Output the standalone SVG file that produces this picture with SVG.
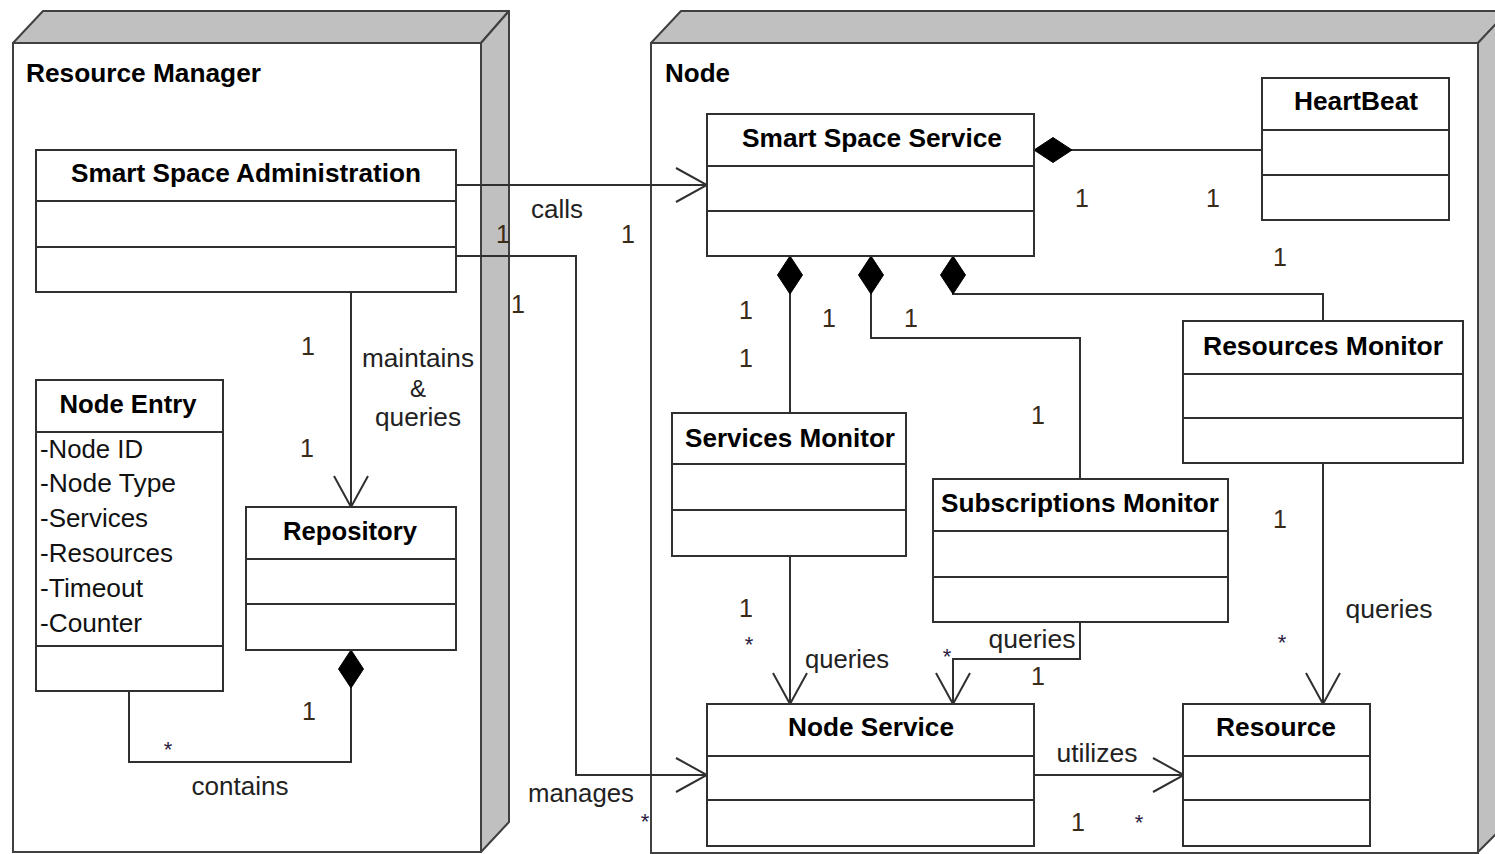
<svg xmlns="http://www.w3.org/2000/svg" width="1495" height="854" viewBox="0 0 1495 854">
  <style>
    .front { fill: #ffffff; stroke: #404040; stroke-width: 2; }
    .side { fill: #c0c0c0; stroke: #404040; stroke-width: 2; stroke-linejoin: round; }
    .box { fill: #ffffff; stroke: #303030; stroke-width: 2; }
    .sep { stroke: #303030; stroke-width: 2; }
    .conn { fill: none; stroke: #303030; stroke-width: 2; }
    .pkg { font-family: "Liberation Sans", Arial, sans-serif; font-weight: bold; font-size: 25px; fill: #000; }
    .title { font-family: "Liberation Sans", Arial, sans-serif; font-weight: bold; font-size: 25px; fill: #000; text-anchor: middle; }
    .attr { font-family: "Liberation Sans", Arial, sans-serif; font-size: 26px; fill: #111; }
    .lbl { font-family: "Liberation Sans", Arial, sans-serif; font-size: 26px; fill: #222; text-anchor: middle; }
    .amp { font-family: "Liberation Sans", Arial, sans-serif; font-size: 24px; fill: #222; text-anchor: middle; }
    .mult { font-family: "Liberation Sans", Arial, sans-serif; font-size: 25px; fill: #3a2a18; text-anchor: middle; }
    .star { font-family: "Liberation Sans", Arial, sans-serif; font-size: 22px; fill: #2a2040; text-anchor: middle; }
  </style>
  <defs>
    <!-- open navigability arrowhead -->
    <marker id="open" viewBox="0 0 33 36" refX="32" refY="18" markerWidth="33" markerHeight="36" markerUnits="userSpaceOnUse" orient="auto">
      <path d="M1,1 L32,18 L1,35" fill="none" stroke="#303030" stroke-width="2"/>
    </marker>
    <!-- filled composition diamond, placed at the owning end -->
    <marker id="diamond" viewBox="0 0 40 28" refX="0" refY="14" markerWidth="40" markerHeight="28" markerUnits="userSpaceOnUse" orient="auto">
      <path d="M0,14 L19,1.5 L38,14 L19,26.5 Z" fill="#000" stroke="#000" stroke-width="1"/>
    </marker>
  </defs>

  <!-- deployment node: Resource Manager -->
  <g id="pkg-resource-manager">
    <polygon class="side" points="13,43 43,11 509,11 481,43"/>
    <polygon class="side" points="481,43 509,11 509,822 481,852"/>
    <rect class="front" x="13" y="43" width="468" height="809"/>
    <text class="pkg" x="26" y="82" textLength="235" lengthAdjust="spacingAndGlyphs">Resource Manager</text>
  </g>

  <!-- deployment node: Node -->
  <g id="pkg-node">
    <polygon class="side" points="651,43 681,11 1508,11 1478,43"/>
    <polygon class="side" points="1478,43 1508,11 1508,822 1478,852"/>
    <rect class="front" x="651" y="43" width="827" height="810"/>
    <text class="pkg" x="665" y="82" textLength="65" lengthAdjust="spacingAndGlyphs">Node</text>
  </g>

  <!-- associations -->
  <g id="connectors">
    <path class="conn" d="M456,185 H707" marker-end="url(#open)"/>
    <path class="conn" d="M456,256 H576 V775 H707" marker-end="url(#open)"/>
    <path class="conn" d="M351,292 V507" marker-end="url(#open)"/>
    <path class="conn" d="M351,650 V762 H129 V691" marker-start="url(#diamond)"/>
    <path class="conn" d="M1034,150 H1262" marker-start="url(#diamond)"/>
    <path class="conn" d="M790,256 V413" marker-start="url(#diamond)"/>
    <path class="conn" d="M871,256 V338 H1080 V479" marker-start="url(#diamond)"/>
    <path class="conn" d="M953,256 V294 H1323 V321" marker-start="url(#diamond)"/>
    <path class="conn" d="M790,556 V704" marker-end="url(#open)"/>
    <path class="conn" d="M1080,622 V659 H953 V704" marker-end="url(#open)"/>
    <path class="conn" d="M1323,463 V704" marker-end="url(#open)"/>
    <path class="conn" d="M1034,775 H1184" marker-end="url(#open)"/>

    <!-- association names -->
    <text class="lbl" x="557" y="218" textLength="52" lengthAdjust="spacingAndGlyphs">calls</text>
    <text class="lbl" x="581" y="802" textLength="106" lengthAdjust="spacingAndGlyphs">manages</text>
    <text class="lbl" x="418" y="367" textLength="112" lengthAdjust="spacingAndGlyphs">maintains</text>
    <text class="amp" x="418" y="397">&amp;</text>
    <text class="lbl" x="418" y="426" textLength="86" lengthAdjust="spacingAndGlyphs">queries</text>
    <text class="lbl" x="240" y="795" textLength="97" lengthAdjust="spacingAndGlyphs">contains</text>
    <text class="lbl" x="847" y="668" textLength="84" lengthAdjust="spacingAndGlyphs">queries</text>
    <text class="lbl" x="1032" y="648" textLength="87" lengthAdjust="spacingAndGlyphs">queries</text>
    <text class="lbl" x="1389" y="618" textLength="87" lengthAdjust="spacingAndGlyphs">queries</text>
    <text class="lbl" x="1097" y="762" textLength="81" lengthAdjust="spacingAndGlyphs">utilizes</text>

    <!-- multiplicities -->
    <text class="mult" x="503" y="243">1</text>
    <text class="mult" x="628" y="243">1</text>
    <text class="mult" x="518" y="313">1</text>
    <text class="mult" x="308" y="355">1</text>
    <text class="mult" x="307" y="457">1</text>
    <text class="mult" x="309" y="720">1</text>
    <text class="star" x="168" y="757">*</text>
    <text class="star" x="645" y="829">*</text>
    <text class="mult" x="1082" y="207">1</text>
    <text class="mult" x="1213" y="207">1</text>
    <text class="mult" x="1280" y="266">1</text>
    <text class="mult" x="746" y="319">1</text>
    <text class="mult" x="746" y="367">1</text>
    <text class="mult" x="829" y="327">1</text>
    <text class="mult" x="911" y="327">1</text>
    <text class="mult" x="1038" y="424">1</text>
    <text class="mult" x="1280" y="528">1</text>
    <text class="mult" x="746" y="617">1</text>
    <text class="star" x="749" y="652">*</text>
    <text class="star" x="947" y="664">*</text>
    <text class="mult" x="1038" y="685">1</text>
    <text class="star" x="1282" y="650">*</text>
    <text class="mult" x="1078" y="831">1</text>
    <text class="star" x="1139" y="830">*</text>
  </g>

  <!-- classes -->
  <g id="smart-space-administration">
    <rect class="box" x="36" y="150" width="420" height="142"/>
    <line class="sep" x1="36" y1="201" x2="456" y2="201"/>
    <line class="sep" x1="36" y1="247" x2="456" y2="247"/>
    <text class="title" x="246" y="182" textLength="350" lengthAdjust="spacingAndGlyphs">Smart Space Administration</text>
  </g>

  <g id="node-entry">
    <rect class="box" x="36" y="380" width="187" height="311"/>
    <line class="sep" x1="36" y1="432" x2="223" y2="432"/>
    <line class="sep" x1="36" y1="646" x2="223" y2="646"/>
    <text class="title" x="128" y="413" textLength="137" lengthAdjust="spacingAndGlyphs">Node Entry</text>
    <text class="attr" x="40" y="458" textLength="103" lengthAdjust="spacingAndGlyphs">-Node ID</text>
    <text class="attr" x="40" y="492" textLength="136" lengthAdjust="spacingAndGlyphs">-Node Type</text>
    <text class="attr" x="40" y="527" textLength="108" lengthAdjust="spacingAndGlyphs">-Services</text>
    <text class="attr" x="40" y="562" textLength="133" lengthAdjust="spacingAndGlyphs">-Resources</text>
    <text class="attr" x="40" y="597" textLength="103" lengthAdjust="spacingAndGlyphs">-Timeout</text>
    <text class="attr" x="40" y="632" textLength="102" lengthAdjust="spacingAndGlyphs">-Counter</text>
  </g>

  <g id="repository">
    <rect class="box" x="246" y="507" width="210" height="143"/>
    <line class="sep" x1="246" y1="559" x2="456" y2="559"/>
    <line class="sep" x1="246" y1="604" x2="456" y2="604"/>
    <text class="title" x="350" y="540" textLength="134" lengthAdjust="spacingAndGlyphs">Repository</text>
  </g>

  <g id="smart-space-service">
    <rect class="box" x="707" y="114" width="327" height="142"/>
    <line class="sep" x1="707" y1="166" x2="1034" y2="166"/>
    <line class="sep" x1="707" y1="211" x2="1034" y2="211"/>
    <text class="title" x="872" y="147" textLength="260" lengthAdjust="spacingAndGlyphs">Smart Space Service</text>
  </g>

  <g id="heartbeat">
    <rect class="box" x="1262" y="78" width="187" height="142"/>
    <line class="sep" x1="1262" y1="130" x2="1449" y2="130"/>
    <line class="sep" x1="1262" y1="175" x2="1449" y2="175"/>
    <text class="title" x="1356" y="110" textLength="124" lengthAdjust="spacingAndGlyphs">HeartBeat</text>
  </g>

  <g id="resources-monitor">
    <rect class="box" x="1183" y="321" width="280" height="142"/>
    <line class="sep" x1="1183" y1="374" x2="1463" y2="374"/>
    <line class="sep" x1="1183" y1="418" x2="1463" y2="418"/>
    <text class="title" x="1323" y="355" textLength="240" lengthAdjust="spacingAndGlyphs">Resources Monitor</text>
  </g>

  <g id="services-monitor">
    <rect class="box" x="672" y="413" width="234" height="143"/>
    <line class="sep" x1="672" y1="464" x2="906" y2="464"/>
    <line class="sep" x1="672" y1="510" x2="906" y2="510"/>
    <text class="title" x="790" y="447" textLength="210" lengthAdjust="spacingAndGlyphs">Services Monitor</text>
  </g>

  <g id="subscriptions-monitor">
    <rect class="box" x="933" y="479" width="295" height="143"/>
    <line class="sep" x1="933" y1="531" x2="1228" y2="531"/>
    <line class="sep" x1="933" y1="577" x2="1228" y2="577"/>
    <text class="title" x="1080" y="512" textLength="278" lengthAdjust="spacingAndGlyphs">Subscriptions Monitor</text>
  </g>

  <g id="node-service">
    <rect class="box" x="707" y="704" width="327" height="142"/>
    <line class="sep" x1="707" y1="756" x2="1034" y2="756"/>
    <line class="sep" x1="707" y1="800" x2="1034" y2="800"/>
    <text class="title" x="871" y="736" textLength="166" lengthAdjust="spacingAndGlyphs">Node Service</text>
  </g>

  <g id="resource">
    <rect class="box" x="1183" y="704" width="187" height="142"/>
    <line class="sep" x1="1183" y1="756" x2="1370" y2="756"/>
    <line class="sep" x1="1183" y1="800" x2="1370" y2="800"/>
    <text class="title" x="1276" y="736" textLength="120" lengthAdjust="spacingAndGlyphs">Resource</text>
  </g>
</svg>
